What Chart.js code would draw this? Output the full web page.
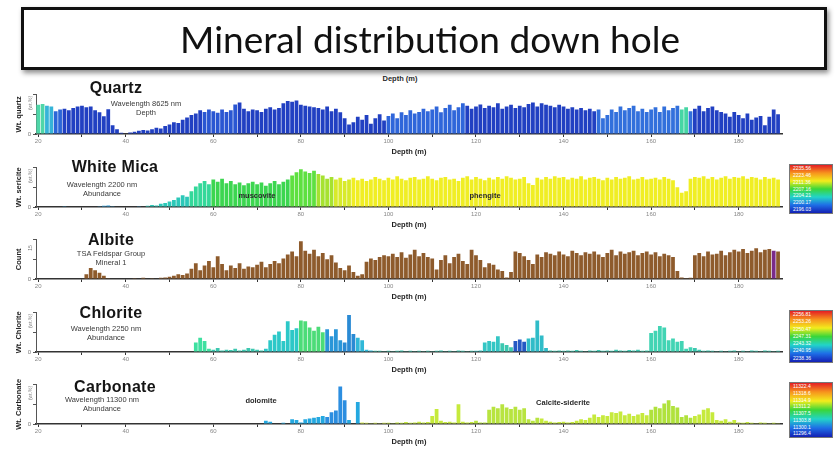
<!DOCTYPE html>
<html lang="en">
<head>
<meta charset="UTF-8">
<title>Mineral distribution down hole</title>
<script src="https://cdn.jsdelivr.net/npm/chart.js"></script>
<style>
  body { margin:0; width:837px; height:450px; background:#fff; position:relative; overflow:hidden;
         font-family:"Liberation Sans", Arial, sans-serif; }
  .box { position:absolute; left:21px; top:7px; width:788px; height:57px; border:3px solid #111;
         box-shadow:2px 3px 5px rgba(0,0,0,.45); background:#fff; z-index:5;
         display:flex; align-items:center; justify-content:center; padding-left:12px; box-sizing:content-box;
         font-family:Lato, "Open Sans", sans-serif; font-size:37px; color:#111; }
  .panel { position:absolute; left:0; }
  .lbl { position:absolute; white-space:nowrap; transform:translate(-50%,-50%); z-index:3; }
  .name { font-weight:bold; font-size:16px; color:#151515; letter-spacing:.3px; }
  .sub { font-size:7.5px; color:#3a3a3a; text-align:center; line-height:8.5px; }
  .tag { font-weight:bold; font-size:7.5px; color:#2a2a2a; }
  .vy { position:absolute; white-space:nowrap; transform:translate(-50%,-50%) rotate(-90deg); font-size:5px; color:#777; }
  .cbar { position:absolute; left:789px; width:42px; border:1px solid #777; z-index:3; }
  .cbar div { font-size:5px; color:#fff; padding-left:3px; box-sizing:border-box; }
</style>
</head>
<body>
<div class="box">Mineral distribution down hole</div>
<div class="lbl tag" style="left:400px;top:78px;z-index:1">Depth (m)</div>

<script>
// depth sampling, 1 m per bar from 20 m
const depthStart = 20;
const depthCount = 170;
const depths = [];
for (let i = 0; i < depthCount; i++) depths.push(depthStart + i);

// values are read as % of each panel's full height, one row per 10 m
const quartzValues = [
  74,76,72,70,58,62,64,60,66,70,
  72,68,70,60,55,45,63,22,12,3,
  0,4,6,8,10,9,12,16,14,20,
  24,30,28,36,42,48,52,60,56,62,
  58,54,62,56,60,75,80,64,58,62,
  60,56,64,68,62,66,78,84,82,85,
  74,72,70,68,66,62,70,58,64,55,
  40,24,30,44,36,48,26,40,50,34,
  46,52,40,55,48,60,52,56,64,58,
  62,70,55,66,74,60,68,78,72,64,
  70,75,66,72,68,78,64,70,74,66,
  72,68,76,80,70,78,74,72,68,74,
  70,64,68,62,66,60,64,58,62,40,
  48,62,56,70,60,66,72,58,64,56,
  62,68,56,70,60,66,72,62,68,58,
  64,72,58,66,70,60,56,52,44,56,
  48,40,52,36,42,46,22,44,62,50
];
const whiteMicaValues = [
  0,0,0,1,0,0,2,0,0,1,
  0,1,0,0,2,3,4,2,0,1,
  0,1,0,2,1,3,5,4,8,10,
  14,18,24,30,26,40,52,60,66,58,
  70,64,72,60,66,58,62,55,60,64,
  58,62,54,60,66,58,64,70,80,88,
  96,90,86,92,84,80,72,76,70,74,
  66,70,74,68,72,66,70,76,72,68,
  74,70,78,72,68,74,76,70,72,78,
  72,68,74,76,70,72,66,74,78,70,
  76,72,68,74,70,76,72,78,74,70,
  72,76,60,56,74,70,76,72,78,74,
  76,70,74,72,78,70,74,76,72,68,
  74,70,76,72,74,78,70,72,76,70,
  72,74,70,76,72,68,50,36,40,72,
  76,74,78,72,76,70,74,78,72,76,
  74,78,72,76,74,70,76,72,74,70
];
const albiteValues = [
  0,0,0,0,0,0,0,0,0,0,
  0,12,28,22,16,8,2,0,0,0,
  0,0,2,0,3,0,2,0,3,4,
  6,8,12,10,14,26,40,22,34,46,
  30,58,38,22,34,28,40,26,32,30,
  36,44,30,38,46,40,52,62,70,58,
  96,72,64,74,58,66,50,60,42,28,
  22,34,18,8,12,44,52,48,56,60,
  58,64,56,68,54,62,74,58,66,56,
  52,24,48,60,40,56,64,46,38,74,
  60,48,30,40,36,24,20,4,18,70,
  66,58,48,38,62,56,68,64,60,70,
  62,58,72,66,60,68,64,70,62,56,
  66,74,60,70,64,68,72,60,66,70,
  62,68,58,64,60,56,20,4,2,3,
  60,66,58,70,62,64,72,60,68,74,
  70,76,66,72,78,68,74,76,72,70
];
const chloriteValues = [
  0,0,0,0,0,0,0,0,0,0,
  0,0,1,0,0,0,0,0,0,0,
  0,0,0,0,1,0,0,0,0,0,
  0,0,0,0,0,0,24,36,28,8,
  6,10,4,6,5,8,4,6,10,8,
  6,4,8,30,44,52,28,78,56,60,
  80,78,62,54,64,50,58,40,58,30,
  24,94,46,36,30,6,4,3,3,2,
  3,2,3,4,2,3,2,3,2,3,
  2,3,4,2,3,2,4,3,2,3,
  3,4,24,28,26,40,22,18,12,28,
  32,26,34,36,80,42,10,4,3,4,
  3,4,3,5,3,2,4,3,5,3,
  4,3,6,4,3,5,4,6,3,4,
  48,54,66,62,30,34,26,28,8,12,
  10,6,3,4,3,2,3,2,3,4,
  2,3,2,4,3,2,4,3,2,3
];
const carbonateValues = [
  0,0,0,0,0,0,0,0,0,0,
  0,0,0,0,0,0,0,0,0,0,
  0,0,0,0,0,0,0,0,0,0,
  0,0,0,0,0,0,0,0,0,0,
  0,0,0,0,0,0,0,0,0,0,
  0,0,8,6,0,0,3,0,12,10,
  4,12,14,16,18,20,18,30,34,95,
  60,10,0,56,4,3,2,3,2,3,
  3,2,4,3,5,3,4,6,4,5,
  20,38,8,5,6,4,50,6,4,5,
  8,4,4,36,44,40,50,42,38,44,
  36,40,12,8,16,14,8,6,4,5,
  6,4,5,8,12,10,16,24,18,22,
  20,30,28,32,22,26,20,24,28,22,
  36,44,40,52,60,46,42,18,22,16,
  20,24,36,40,30,10,8,12,6,10,
  4,3,5,3,2,4,3,2,3,2
];

// colour zones by depth: [from, to, colour]; later rows win
const quartzZones = [[0,999,'#2140c2'],[20,22,'#4fd6a8'],[22,24,'#36b4d8'],[24,26,'#2c66d8'],
  [58,66,'#2a56d2'],[100,118,'#2f66da'],[148,170,'#3270dc'],[167,169,'#46d6a4']];
const whiteMicaZones = [[0,999,'#f0ee24'],[20,45,'#2a9ad8'],[45,55,'#2cc8b8'],[55,60,'#34d89a'],
  [60,78,'#3cd650'],[78,84,'#5ee040'],[84,88,'#a6e230'],[88,92,'#d8ea2a']];
const albiteZones = [[0,999,'#8e5b2c'],[188,189,'#7a2a8a']];
const chloriteZones = [[0,999,'#3cc8b0'],[55,60,'#3ee0a0'],[72,80,'#2cc8c8'],[80,86,'#4cdc78'],
  [86,90,'#2a96d8'],[90,93,'#2a8ad4'],[93,97,'#30b8d8'],[120,126,'#34c6c4'],[129,132,'#2458c4'],
  [132,137,'#30bcc8'],[158,170,'#42d4b4']];
const carbonateZones = [[0,999,'#c6ea3c'],[70,94,'#24a8e0'],[86,91,'#2c8ee0'],[94,100,'#d8ee50'],
  [120,135,'#b8e440'],[160,170,'#b0e23c']];

const whiteMicaScale = ['2235.56','2223.46','2211.36','2207.16','2204.21','2200.17','2196.03'];
const chloriteScale = ['2256.81','2253.26','2250.47','2247.31','2243.32','2240.95','2238.36'];
const carbonateScale = ['11322.4','11318.6','11314.9','11311.2','11307.5','11303.8','11300.1','11296.4'];

function zoneColor(zones, d) {
  let c = zones[0][2];
  for (const z of zones) if (d >= z[0] && d < z[1]) c = z[2];
  return c;
}

const panels = [
  { values: quartzValues, zones: quartzZones, yTitle: 'Wt. quartz', yNote: '(wt.%)', top: 89,
    name: 'Quartz', nameX: 116, nameY: 88, sub: ['Wavelength 8625 nm', 'Depth'], subX: 146, subY: 108 },
  { values: whiteMicaValues, zones: whiteMicaZones, yTitle: 'Wt. sericite', yNote: '(wt.%)', top: 162,
    name: 'White Mica', nameX: 115, nameY: 167, sub: ['Wavelength 2200 nm', 'Abundance'], subX: 102, subY: 189,
    scale: whiteMicaScale, scaleTop: 164, scaleH: 48 },
  { values: albiteValues, zones: albiteZones, yTitle: 'Count', yNote: '15', top: 234,
    name: 'Albite', nameX: 111, nameY: 240, sub: ['TSA Feldspar Group', 'Mineral 1'], subX: 111, subY: 258 },
  { values: chloriteValues, zones: chloriteZones, yTitle: 'Wt. Chlorite', yNote: '(wt.%)', top: 307,
    name: 'Chlorite', nameX: 111, nameY: 313, sub: ['Wavelength 2250 nm', 'Abundance'], subX: 106, subY: 333,
    scale: chloriteScale, scaleTop: 310, scaleH: 51 },
  { values: carbonateValues, zones: carbonateZones, yTitle: 'Wt. Carbonate', yNote: '(wt.%)', top: 379,
    name: 'Carbonate', nameX: 115, nameY: 387, sub: ['Wavelength 11300 nm', 'Abundance'], subX: 102, subY: 404,
    scale: carbonateScale, scaleTop: 382, scaleH: 54 }
];

const tags = [
  ['muscovite', 257, 195], ['phengite', 485, 195], ['dolomite', 261, 400], ['Calcite-siderite', 563, 402]
];

function addDiv(cls, html, style) {
  const d = document.createElement('div');
  d.className = cls;
  d.innerHTML = html;
  Object.assign(d.style, style);
  document.body.appendChild(d);
  return d;
}

panels.forEach(p => {
  const wrap = addDiv('panel', '', { top: p.top + 'px' });
  const cv = document.createElement('canvas');
  cv.width = 837; cv.height = 67;
  wrap.appendChild(cv);

  new Chart(cv.getContext('2d'), {
    type: 'bar',
    data: {
      labels: depths,
      datasets: [{
        data: p.values,
        backgroundColor: ctx => zoneColor(p.zones, depths[ctx.dataIndex]),
        borderWidth: 0,
        barPercentage: 0.86,
        categoryPercentage: 1
      }]
    },
    options: {
      responsive: false,
      animation: false,
      layout: { padding: { top: 2, right: 55, left: 0, bottom: 0 } },
      plugins: { legend: { display: false }, tooltip: { enabled: false } },
      scales: {
        x: {
          type: 'linear', min: 19.5, max: 189.9, offset: false,
          afterFit: s => { s.height = 22; },
          ticks: { stepSize: 10, includeBounds: false, autoSkip: false, maxRotation: 0, padding: 1,
                   font: { size: 6 }, color: '#888',
                   callback: v => v % 20 === 0 ? String(v) : '' },
          grid: { display: true, drawOnChartArea: false, drawTicks: true, tickLength: 3, color: '#333', offset: false },
          border: { color: '#333', width: 1.5 },
          title: { display: true, text: 'Depth (m)', font: { size: 7.5, weight: 'bold' }, color: '#222',
                   padding: { top: 1, bottom: 0 } }
        },
        y: {
          min: 0, max: 100,
          afterFit: s => { s.width = 36; },
          ticks: { stepSize: 25, font: { size: 6 }, color: '#777', padding: 2,
                   callback: v => v === 0 ? '0' : '' },
          grid: { display: true, drawOnChartArea: false, tickLength: 3, color: '#555' },
          border: { color: '#555', width: 1 },
          title: { display: true, text: p.yTitle, font: { size: 7.5, weight: 'bold' }, color: '#222',
                   padding: { top: 14, bottom: 0 } }
        }
      }
    }
  });

  addDiv('lbl name', p.name, { left: p.nameX + 'px', top: p.nameY + 'px' });
  addDiv('lbl sub', p.sub.join('<br>'), { left: p.subX + 'px', top: p.subY + 'px' });
  addDiv('vy', p.yNote, { left: '30px', top: (p.top + 14) + 'px' });

  if (p.scale) {
    const bar = addDiv('cbar', '', { top: p.scaleTop + 'px', height: p.scaleH + 'px',
      background: 'linear-gradient(to bottom,#e41e24,#f7941d,#f2ec1c,#3ad63a,#22d4c8,#1e6ee6,#1420b4)' });
    const h = p.scaleH / p.scale.length;
    p.scale.forEach(t => {
      const r = document.createElement('div');
      r.textContent = t;
      r.style.height = h + 'px';
      r.style.lineHeight = h + 'px';
      bar.appendChild(r);
    });
  }
});

tags.forEach(t => addDiv('lbl tag', t[0], { left: t[1] + 'px', top: t[2] + 'px' }));
</script>
</body>
</html>
